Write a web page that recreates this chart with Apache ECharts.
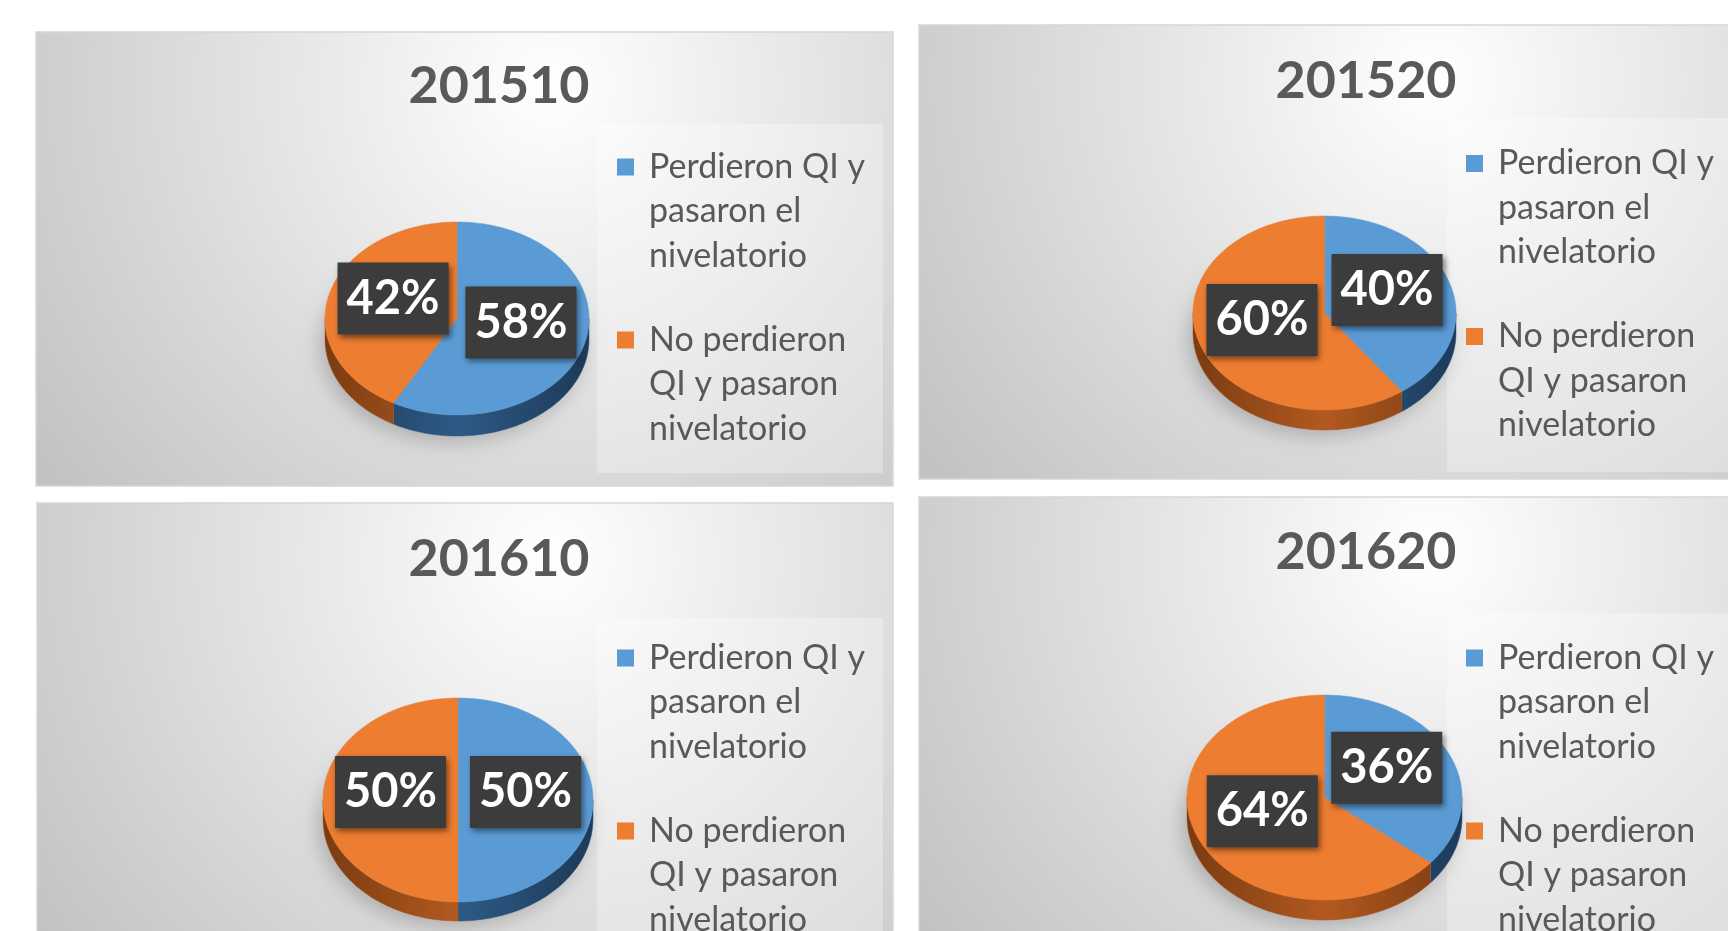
<!DOCTYPE html>
<html>
<head>
<meta charset="utf-8">
<script src="https://cdn.jsdelivr.net/npm/echarts@6/dist/echarts.min.js"></script>
<style>
html,body{margin:0;padding:0;background:#ffffff;overflow:hidden}
#chart{width:1728px;height:931px}
</style>
</head>
<body>
<div id="chart"></div>
<script>
// ---- data ----
const periods = ['201510', '201520', '201610', '201620'];
const categories = ['Perdieron QI y pasaron el nivelatorio', 'No perdieron QI y pasaron nivelatorio'];
const perdieron = [58, 40, 50, 36];
const noPerdieron = [42, 60, 50, 64];
const seriesValues = [perdieron, noPerdieron];

// ---- presentation ----
const legendLines = {
  'Perdieron QI y pasaron el nivelatorio': 'Perdieron QI y\npasaron el\nnivelatorio',
  'No perdieron QI y pasaron nivelatorio': 'No perdieron\nQI y pasaron\nnivelatorio'
};
const topColors = ['#5B9BD5', '#ED7D31'];
const sideStops = [
  ['#1d3a58', '#2d5a86', '#1d3a58'],
  ['#7a3c12', '#b2591f', '#7a3c12']
];
const panels = [
  {x: 36,  y: 32,  w: 857, h: 454, title: [499, 86.5],  box: [597, 124, 286, 349], legend: [617, 144.75], pie: [457, 318.5, 132, 96.5, 21]},
  {x: 919, y: 25,  w: 857, h: 454, title: [1366, 81],   box: [1447, 118, 330, 354], legend: [1466, 141.25], pie: [1324.5, 313, 131.5, 97, 20]},
  {x: 37,  y: 503, w: 856, h: 454, title: [499, 559],   box: [597, 618, 286, 349], legend: [617, 635.75], pie: [458, 800, 135, 102, 19]},
  {x: 919, y: 497, w: 857, h: 454, title: [1366, 552.5], box: [1447, 613, 330, 354], legend: [1466, 635.75], pie: [1324.5, 797.5, 137.5, 102.5, 20]}
];
const titleSize = 52;

function makeRender(ci) {
  return function (params, api) {
    const i = params.dataIndex;
    const [cx, cy, rx, ry, d] = panels[i].pie;
    const value = api.value(0);
    let total = 0, before = 0;
    seriesValues.forEach(function (arr, k) { total += arr[i]; if (k < ci) before += arr[i]; });
    const a0 = -90 + before / total * 360;
    const a1 = a0 + value / total * 360;
    const pt = function (deg, dy) {
      const r = deg * Math.PI / 180;
      return [cx + rx * Math.cos(r), cy + ry * Math.sin(r) + (dy || 0)];
    };
    const arc = function (s, e, dy) {
      const pts = [];
      const n = Math.max(2, Math.ceil(Math.abs(e - s)));
      for (let k = 0; k <= n; k++) pts.push(pt(s + (e - s) * k / n, dy));
      return pts;
    };
    const children = [];
    if (ci === 0) {
      children.push({
        type: 'polygon', z2: 0,
        shape: {points: arc(0, 360, d)},
        style: {fill: 'rgba(150,150,150,0.6)', shadowBlur: 20, shadowColor: 'rgba(0,0,0,0.35)', shadowOffsetX: -5, shadowOffsetY: 6}
      });
    }
    const s = Math.max(a0, 0), e = Math.min(a1, 180);
    if (e > s) {
      const top = arc(s, e, 0);
      const bot = arc(s, e, d).reverse();
      const st = sideStops[ci];
      children.push({
        type: 'polygon', z2: 1,
        shape: {points: top.concat(bot)},
        style: {
          fill: {type: 'linear', global: true, x: cx - rx, y: 0, x2: cx + rx, y2: 0,
            colorStops: [{offset: 0, color: st[0]}, {offset: 0.5, color: st[1]}, {offset: 1, color: st[2]}]},
          stroke: st[1], lineWidth: 0.5
        }
      });
    }
    children.push({
      type: 'polygon', z2: 5,
      shape: {points: [[cx, cy]].concat(arc(a0, a1, 0))},
      style: {fill: topColors[ci], stroke: topColors[ci], lineWidth: 0.5}
    });
    const mid = (a0 + a1) / 2 * Math.PI / 180;
    const lx = cx + 0.5 * rx * Math.cos(mid);
    const ly = cy + 0.5 * ry * Math.sin(mid) - 8;
    children.push({
      type: 'text', z2: 10, x: lx, y: ly,
      style: {
        text: Math.round(value / total * 100) + '%',
        fill: '#ffffff', font: 'bold 47px Lato', align: 'center', verticalAlign: 'middle',
        lineHeight: 46, backgroundColor: '#3c3c3c', padding: [13, 9, 13, 9],
        shadowBlur: 6, shadowColor: 'rgba(0,0,0,0.5)', shadowOffsetX: 2, shadowOffsetY: 3
      }
    });
    return {type: 'group', children: children};
  };
}

const chart = echarts.init(document.getElementById('chart'), null, {renderer: 'canvas'});
chart.setOption({
  backgroundColor: '#ffffff',
  animation: false,
  title: panels.map(function (p, i) {
    return {
      text: periods[i], left: p.title[0] - 3 * 0.58 * titleSize, top: p.title[1] - titleSize / 2, padding: 0,
      textStyle: {fontFamily: 'Lato', fontWeight: 'bold', fontSize: titleSize, lineHeight: titleSize, color: '#595959'}
    };
  }),
  legend: panels.map(function (p) {
    return {
      orient: 'vertical', left: p.legend[0], top: p.legend[1], width: 300, height: 400,
      padding: 0, itemGap: 39.5,
      itemWidth: 17, itemHeight: 133.5,
      icon: 'path://M0,0h0.05v0.05h-0.05z M0,13.75h17v17h-17z M0,133.45h0.05v0.05h-0.05z',
      itemStyle: {borderWidth: 0},
      selectedMode: false,
      data: categories,
      formatter: function (n) { return legendLines[n]; },
      textStyle: {fontFamily: 'Lato', fontSize: 34, color: '#595959', lineHeight: 44.5, padding: [0, 0, 0, 10]}
    };
  }),
  graphic: panels.reduce(function (acc, p) {
    acc.push({
      type: 'rect', z: -10,
      shape: {x: p.x, y: p.y, width: p.w, height: p.h},
      style: {
        fill: {type: 'radial', x: 0.6, y: 0.12, r: 1.4,
          colorStops: [{offset: 0, color: '#ffffff'}, {offset: 1, color: '#c2c2c2'}]},
        stroke: '#d6d6d6', lineWidth: 1.5
      }
    });
    acc.push({
      type: 'rect', z: -9,
      shape: {x: p.box[0], y: p.box[1], width: p.box[2], height: p.box[3]},
      style: {fill: 'rgba(255,255,255,0.3)'}
    });
    return acc;
  }, []),
  series: categories.map(function (name, ci) {
    return {
      type: 'custom', name: name, coordinateSystem: 'none',
      data: seriesValues[ci], renderItem: makeRender(ci),
      itemStyle: {color: topColors[ci]}, silent: true, animation: false
    };
  })
});
</script>
</body>
</html>
